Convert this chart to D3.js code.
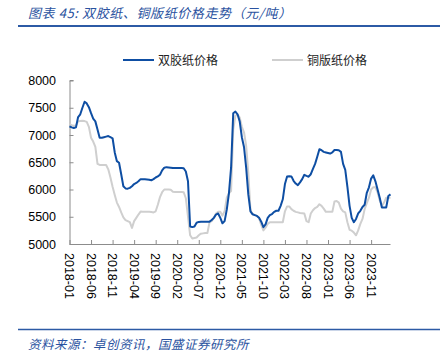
<!DOCTYPE html>
<html>
<head>
<meta charset="utf-8">
<script src="https://cdn.jsdelivr.net/npm/d3@7"></script>
<style>
  html, body { margin: 0; padding: 0; background: #fff; }
  svg { display: block; }
</style>
</head>
<body>
<svg id="chart" width="447" height="352"></svg>
<script>
// ---- data (semi-monthly readings from 2018-01 onward) ----
const titleText = "图表 45:  双胶纸、铜版纸价格走势（元/吨）";
const sourceText = "资料来源：卓创资讯，国盛证券研究所";
const seriesNames = ["双胶纸价格", "铜版纸价格"];
const xTickLabels = ["2018-01","2018-06","2018-11","2019-04","2019-09","2020-02","2020-07","2020-12","2021-05","2021-10","2022-03","2022-08","2023-01","2023-06","2023-11"];
const yTicks = [5000, 5500, 6000, 6500, 7000, 7500, 8000];

const offsetPaper = [
  7160,7140,7128,7140,7330,7380,7500,7610,7580,7510,
  7400,7300,7250,7100,6950,6950,6960,6970,6980,6960,
  6940,6680,6520,6490,6280,6060,6020,6015,6030,6060,
  6100,6120,6150,6190,6190,6190,6185,6180,6170,6190,
  6220,6240,6270,6350,6400,6410,6405,6400,6395,6395,
  6395,6395,6395,6390,6330,6150,5320,5310,5320,5390,
  5405,5410,5410,5410,5410,5410,5440,5480,5540,5560,
  5480,5380,5420,5630,5930,6400,7400,7430,7380,7250,
  6960,6780,6400,5910,5600,5545,5530,5515,5480,5410,
  5310,5360,5480,5530,5550,5590,5610,5610,5700,5820,
  6100,6240,6245,6240,6160,6110,6080,6130,6190,6270,
  6250,6235,6280,6380,6470,6600,6740,6720,6690,6680,
  6670,6660,6680,6725,6725,6720,6690,6470,6360,6050,
  5700,5480,5400,5460,5560,5610,5680,5720,5940,6040,
  6200,6260,6150,6000,5850,5669,5669,5669,5880,5910
];
const coatedPaper = [
  7200,7180,7170,7175,7250,7255,7260,7255,7240,7150,
  6950,6880,6780,6470,6450,6450,6450,6450,6370,6220,
  6050,5900,5760,5680,5580,5490,5440,5420,5400,5295,
  5420,5480,5540,5595,5590,5590,5590,5590,5585,5580,
  5600,5720,5860,5950,6000,6000,6000,5995,5960,5955,
  5955,5955,5955,5950,5840,5500,5160,5100,5110,5120,
  5160,5190,5195,5200,5200,5400,5420,5480,5560,5590,
  5590,5520,5600,5850,5930,5970,7100,7350,7380,7320,
  7150,7050,6800,6300,5620,5550,5530,5515,5470,5350,
  5250,5300,5370,5400,5400,5400,5400,5400,5400,5400,
  5600,5690,5690,5640,5610,5590,5580,5570,5565,5560,
  5420,5400,5560,5620,5660,5680,5730,5700,5650,5590,
  5590,5590,5590,5780,5790,5760,5650,5600,5580,5400,
  5260,5245,5210,5160,5250,5370,5460,5640,5750,5850,
  6000,6040,6040,5950,5800,5698,5760,5850,5850,5850
];

// ---- layout ----
const svg = d3.select("#chart");
const plot = { left: 69.5, right: 390.5, top: 80.5, bottom: 244 };
const blue = "#0e4ea3", grey = "#cfcfcf", titleBlue = "#2a52a0", axisCol = "#8c8c8c";
const cjk = "'Noto Sans CJK SC', 'Noto Sans', sans-serif";
const num = "'Liberation Sans', Arial, sans-serif";

// month index: each reading is half a month apart
const monthOf = i => i / 2;
const x = d3.scaleLinear().domain([0, 74.5]).range([plot.left, plot.right]);
const y = d3.scaleLinear().domain([5000, 8000]).range([plot.bottom, plot.top]);

// title
svg.append("text").attr("x", 28).attr("y", 18)
  .attr("font-family", cjk).attr("font-size", 13).attr("font-style", "italic")
  .attr("letter-spacing", 0.6)
  .attr("fill", titleBlue).text(titleText);
svg.append("line").attr("x1", 18).attr("x2", 440).attr("y1", 26).attr("y2", 26)
  .attr("stroke", "#2c5aa5").attr("stroke-width", 2);

// legend
const legend = [{name: seriesNames[0], color: blue, x: 123}, {name: seriesNames[1], color: grey, x: 272}];
legend.forEach(l => {
  svg.append("line").attr("x1", l.x).attr("x2", l.x + 31).attr("y1", 60).attr("y2", 60)
    .attr("stroke", l.color).attr("stroke-width", 2);
  svg.append("text").attr("x", l.x + 35).attr("y", 64.5)
    .attr("font-family", cjk).attr("font-size", 12).attr("fill", "#222").text(l.name);
});

// y axis
const yAxis = d3.axisRight(y).tickValues(yTicks).tickSize(4).tickFormat("");
const gy = svg.append("g").attr("transform", `translate(${plot.left},0)`).call(yAxis);
gy.select(".domain").attr("stroke", axisCol).attr("d", `M4,${plot.top}H0.5V${plot.bottom}`);
gy.selectAll(".tick line").attr("stroke", axisCol);
svg.append("g").selectAll("text").data(yTicks).join("text")
  .attr("x", 56).attr("y", d => y(d)).attr("dy", "0.36em").attr("text-anchor", "end")
  .attr("font-family", num).attr("font-size", 12.5).attr("fill", "#000").text(d => d);

// x axis
const xTickVals = xTickLabels.map((_, k) => k * 5);
const xAxis = d3.axisTop(x).tickValues(xTickVals).tickSize(4).tickFormat("");
const gx = svg.append("g").attr("transform", `translate(0,${plot.bottom})`).call(xAxis);
gx.select(".domain").attr("stroke", axisCol).attr("d", `M${plot.left},0.5H${plot.right}`);
gx.selectAll(".tick line").attr("stroke", axisCol);
svg.append("g").selectAll("text").data(xTickLabels).join("text")
  .attr("transform", (d, k) => `translate(${x(xTickVals[k])},${plot.bottom + 9}) rotate(90)`)
  .attr("dy", "0.36em").attr("text-anchor", "start")
  .attr("font-family", num).attr("font-size", 12.5).attr("fill", "#000").text(d => d);

// lines
const line = d3.line().x((d, i) => x(monthOf(i))).y(d => y(d)).curve(d3.curveLinear);
svg.append("path").datum(coatedPaper).attr("d", line)
  .attr("fill", "none").attr("stroke", grey).attr("stroke-width", 2).attr("stroke-linejoin", "round");
svg.append("path").datum(offsetPaper).attr("d", line)
  .attr("fill", "none").attr("stroke", blue).attr("stroke-width", 2).attr("stroke-linejoin", "round");

// source
svg.append("line").attr("x1", 18).attr("x2", 440).attr("y1", 329.5).attr("y2", 329.5)
  .attr("stroke", "#2c5aa5").attr("stroke-width", 1.5);
svg.append("text").attr("x", 28).attr("y", 349)
  .attr("font-family", cjk).attr("font-size", 12.5).attr("font-style", "italic")
  .attr("letter-spacing", 0.5)
  .attr("fill", titleBlue).text(sourceText);
</script>
</body>
</html>
